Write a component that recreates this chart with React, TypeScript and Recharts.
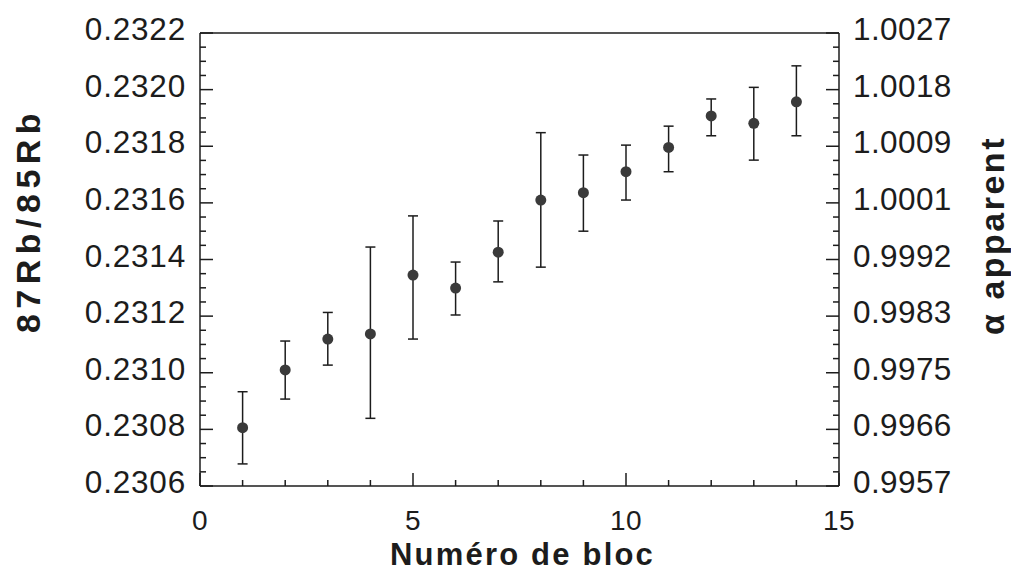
import React from 'react';
import { ScatterChart, Scatter, XAxis, YAxis, ErrorBar } from 'recharts';

const blocks = [1, 2, 3, 4, 5, 6, 7, 8, 9, 10, 11, 12, 13, 14];
const ratio = [0.230806, 0.23101, 0.231119, 0.231137, 0.231345, 0.231299, 0.231426, 0.23161, 0.231636, 0.23171, 0.231796, 0.231907, 0.231881, 0.231957];
const ratioLow = [0.230678, 0.230907, 0.231027, 0.230839, 0.231119, 0.231204, 0.231321, 0.231373, 0.2315, 0.23161, 0.23171, 0.231837, 0.231751, 0.231837];
const ratioHigh = [0.230933, 0.231112, 0.231213, 0.231444, 0.231554, 0.231391, 0.231536, 0.231848, 0.231769, 0.231804, 0.231871, 0.231967, 0.232008, 0.232084];

const leftTicks = [0.2306, 0.2308, 0.231, 0.2312, 0.2314, 0.2316, 0.2318, 0.232, 0.2322];
const leftTickLabels = ['0.2306', '0.2308', '0.2310', '0.2312', '0.2314', '0.2316', '0.2318', '0.2320', '0.2322'];
const rightTickLabels = ['0.9957', '0.9966', '0.9975', '0.9983', '0.9992', '1.0001', '1.0009', '1.0018', '1.0027'];
const xTicks = [0, 5, 10, 15];
const xTickLabels = ['0', '5', '10', '15'];

const Y_DOMAIN: [number, number] = [0.2306, 0.2322];
const X_DOMAIN: [number, number] = [0, 15];

// y ticks: majors every 0.0002, three minors in between
const Y_SUB = 4;
const yAllTicks: number[] = [];
for (let i = 0; i < leftTicks.length - 1; i++) {
  const a = leftTicks[i];
  const b = leftTicks[i + 1];
  for (let k = 0; k < Y_SUB; k++) yAllTicks.push(a + ((b - a) * k) / Y_SUB);
}
yAllTicks.push(leftTicks[leftTicks.length - 1]);

// x ticks: majors every 5, minors every 1
const X_SUB = 5;
const xAllTicks: number[] = [];
for (let i = 0; i < xTicks.length - 1; i++) {
  const a = xTicks[i];
  const b = xTicks[i + 1];
  for (let k = 0; k < X_SUB; k++) xAllTicks.push(a + ((b - a) * k) / X_SUB);
}
xAllTicks.push(xTicks[xTicks.length - 1]);

const data = blocks.map((x, i) => ({
  x,
  y: ratio[i],
  err: [ratio[i] - ratioLow[i], ratioHigh[i] - ratio[i]],
}));

const INK = '#1c1c1c';
const FONT = '"Liberation Sans", Arial, Helvetica, sans-serif';
const lineStyle = { stroke: INK, strokeWidth: 1.5 };
const MAJOR = 13;
const MINOR = 6;
const Y_MARGIN = 14;
const X_MARGIN = 36;

const LeftTick = (p: any) => {
  const major = p.index % Y_SUB === 0;
  const edge = p.x + Y_MARGIN;
  return (
    <g>
      <line x1={edge} x2={edge + (major ? MAJOR : MINOR)} y1={p.y} y2={p.y} stroke={INK} strokeWidth={1.5} />
      {major && (
        <text x={p.x} y={p.y - 4} textAnchor="end" dominantBaseline="central" fontFamily={FONT} fontSize={31.5} fill={INK} letterSpacing={0.8}>
          {leftTickLabels[p.index / Y_SUB]}
        </text>
      )}
    </g>
  );
};

const RightTick = (p: any) => {
  const major = p.index % Y_SUB === 0;
  const edge = p.x - Y_MARGIN;
  return (
    <g>
      <line x1={edge} x2={edge - (major ? MAJOR : MINOR)} y1={p.y} y2={p.y} stroke={INK} strokeWidth={1.5} />
      {major && (
        <text x={p.x} y={p.y - 4} textAnchor="start" dominantBaseline="central" fontFamily={FONT} fontSize={31.5} fill={INK} letterSpacing={0.4}>
          {rightTickLabels[p.index / Y_SUB]}
        </text>
      )}
    </g>
  );
};

const BottomTick = (p: any) => {
  const major = p.index % X_SUB === 0;
  const edge = p.y - X_MARGIN;
  return (
    <g>
      <line x1={p.x} x2={p.x} y1={edge} y2={edge - (major ? MAJOR : MINOR)} stroke={INK} strokeWidth={1.5} />
      {major && (
        <text x={p.x} y={p.y - 2} textAnchor="middle" dominantBaseline="central" fontFamily={FONT} fontSize={28} fill={INK} letterSpacing={0.5}>
          {xTickLabels[p.index / X_SUB]}
        </text>
      )}
    </g>
  );
};

const TopTick = (p: any) => {
  const major = p.index % X_SUB === 0;
  return <line x1={p.x} x2={p.x} y1={p.y} y2={p.y + (major ? MAJOR : MINOR)} stroke={INK} strokeWidth={1.5} />;
};

const Dot = (p: any) => <circle cx={p.cx} cy={p.cy} r={5.5} fill="#3a3a3a" />;

const LeftTitle = (props: any) => {
  const vb = props.viewBox;
  const cx = vb.x + 20;
  const cy = vb.y + vb.height / 2 - 39;
  return (
    <text x={cx} y={cy} transform={`rotate(-90 ${cx} ${cy})`} textAnchor="middle" dominantBaseline="central" fontFamily={FONT} fontWeight="bold" fontSize={34} letterSpacing={5.5} fill={INK}>
      87Rb/85Rb
    </text>
  );
};

const RightTitle = (props: any) => {
  const vb = props.viewBox;
  const cx = vb.x + 153;
  const cy = vb.y + vb.height / 2 - 24;
  return (
    <text x={cx} y={cy} transform={`rotate(-90 ${cx} ${cy})`} textAnchor="middle" dominantBaseline="central" fontFamily={FONT} fontWeight="bold" fontSize={34} letterSpacing={2.5} fill={INK}>
      α apparent
    </text>
  );
};

const BottomTitle = (props: any) => {
  const vb = props.viewBox;
  const cx = vb.x + vb.width / 2 + 3;
  const cy = vb.y + 68;
  return (
    <text x={cx} y={cy} textAnchor="middle" dominantBaseline="central" fontFamily={FONT} fontWeight="bold" fontSize={31} letterSpacing={2.2} fill={INK}>
      Numéro de bloc
    </text>
  );
};

export default function App() {
  return (
    <ScatterChart width={1011} height={563} margin={{ top: 0, right: 0, bottom: 0, left: 0 }}>
      <XAxis
        xAxisId="b"
        type="number"
        dataKey="x"
        domain={X_DOMAIN}
        allowDataOverflow
        ticks={xAllTicks}
        interval={0}
        orientation="bottom"
        height={85}
        tickLine={false}
        tickSize={0}
        tickMargin={X_MARGIN}
        axisLine={lineStyle}
        tick={<BottomTick />}
        label={<BottomTitle />}
      />
      <XAxis
        xAxisId="t"
        type="number"
        domain={X_DOMAIN}
        allowDataOverflow
        ticks={xAllTicks}
        interval={0}
        orientation="top"
        height={25}
        tickLine={false}
        tickSize={0}
        tickMargin={0}
        axisLine={lineStyle}
        tick={<TopTick />}
      />
      <YAxis
        yAxisId="l"
        type="number"
        domain={Y_DOMAIN}
        allowDataOverflow
        ticks={yAllTicks}
        interval={0}
        orientation="left"
        width={192}
        tickLine={false}
        tickSize={0}
        tickMargin={Y_MARGIN}
        axisLine={lineStyle}
        tick={<LeftTick />}
        label={<LeftTitle />}
      />
      <YAxis
        yAxisId="r"
        type="number"
        domain={Y_DOMAIN}
        allowDataOverflow
        ticks={yAllTicks}
        interval={0}
        orientation="right"
        width={180}
        tickLine={false}
        tickSize={0}
        tickMargin={Y_MARGIN}
        axisLine={lineStyle}
        tick={<RightTick />}
        label={<RightTitle />}
      />

      <Scatter data={data} xAxisId="b" yAxisId="l" dataKey="y" shape={<Dot />} isAnimationActive={false}>
        <ErrorBar dataKey="err" direction="y" width={5} stroke={INK} strokeWidth={1.5} isAnimationActive={false} />
      </Scatter>
    </ScatterChart>
  );
}
